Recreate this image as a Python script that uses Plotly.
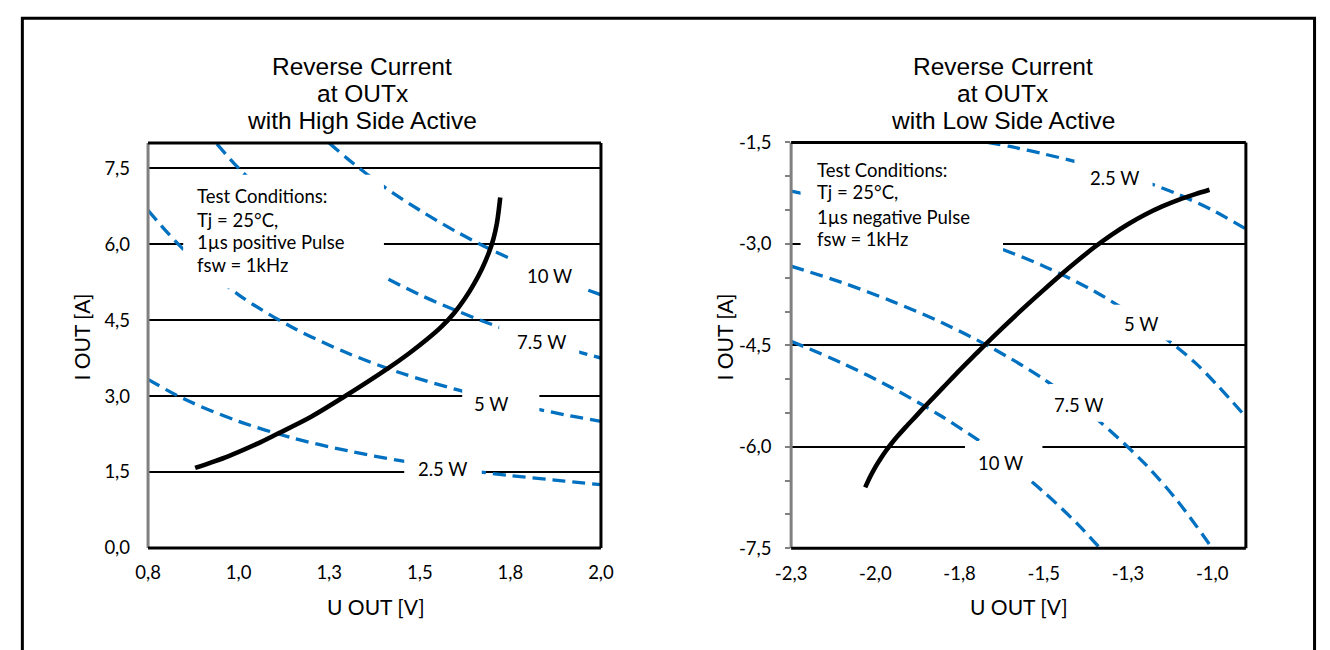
import plotly.graph_objects as go

# ------------------------- data -------------------------
# Left chart (High Side Active): measured reverse current curve
hs_u = [0.880, 0.971, 1.052, 1.106, 1.195, 1.290, 1.411, 1.470, 1.520, 1.560, 1.595, 1.625, 1.650, 1.672, 1.690, 1.703, 1.713, 1.722]
hs_i = [1.58, 1.81, 2.06, 2.25, 2.57, 2.98, 3.54, 3.84, 4.12, 4.37, 4.64, 4.93, 5.22, 5.52, 5.82, 6.10, 6.42, 6.92]

# Left chart: constant power lines
hs_p25_u = [0.75, 0.85, 1.0, 1.15, 1.3, 1.45, 1.6, 1.75, 1.9, 2.0]
hs_p25_i = [3.33, 2.94, 2.50, 2.17, 1.92, 1.72, 1.56, 1.43, 1.32, 1.25]
hs_p50_u = [0.75, 0.85, 1.0, 1.15, 1.3, 1.45, 1.6, 1.75, 1.9, 2.0]
hs_p50_i = [6.67, 5.88, 5.00, 4.35, 3.85, 3.45, 3.13, 2.86, 2.63, 2.50]
hs_p75_u = [0.94, 1.0, 1.1, 1.2, 1.3, 1.4, 1.5, 1.6, 1.7, 1.8, 1.9, 2.0]
hs_p75_i = [7.98, 7.50, 6.82, 6.25, 5.77, 5.36, 5.00, 4.69, 4.41, 4.17, 3.95, 3.75]
hs_p100_u = [1.25, 1.3, 1.4, 1.5, 1.6, 1.7, 1.8, 1.9, 2.0]
hs_p100_i = [8.00, 7.69, 7.14, 6.67, 6.25, 5.88, 5.56, 5.26, 5.00]

# Right chart (Low Side Active): measured reverse current curve
ls_u = [-2.030, -2.015, -2.000, -1.985, -1.970, -1.955, -1.935, -1.910, -1.880, -1.850, -1.800, -1.750, -1.700,
        -1.676, -1.620, -1.560, -1.500, -1.450, -1.400, -1.350, -1.300, -1.250, -1.200, -1.150, -1.100, -1.050, -1.008]
ls_i = [-6.60, -6.44, -6.30, -6.18, -6.07, -5.97, -5.85, -5.71, -5.55, -5.39, -5.13, -4.87, -4.62,
        -4.50, -4.23, -3.95, -3.68, -3.46, -3.25, -3.05, -2.87, -2.71, -2.57, -2.45, -2.35, -2.265, -2.20]

# Right chart: constant power lines
ls_p25_u = [-1.667, -1.6, -1.5, -1.4, -1.3, -1.2, -1.1, -1.0, -0.9]
ls_p25_i = [-1.50, -1.56, -1.67, -1.79, -1.92, -2.08, -2.27, -2.50, -2.78]
ls_p50_u = [-2.25, -2.1, -1.95, -1.8, -1.65, -1.5, -1.35, -1.2, -1.05, -0.9]
ls_p50_i = [-2.22, -2.38, -2.56, -2.78, -3.03, -3.33, -3.70, -4.17, -4.76, -5.56]
ls_p75_u = [-2.25, -2.1, -1.95, -1.8, -1.65, -1.5, -1.35, -1.2, -1.1, -1.0]
ls_p75_i = [-3.33, -3.57, -3.85, -4.17, -4.55, -5.00, -5.56, -6.25, -6.82, -7.50]
ls_p100_u = [-2.25, -2.1, -1.95, -1.8, -1.65, -1.5, -1.4, -1.333]
ls_p100_i = [-4.44, -4.76, -5.13, -5.56, -6.06, -6.67, -7.14, -7.50]

# Axis ticks
hs_xtickvals = [0.75, 1.0, 1.25, 1.5, 1.75, 2.0]
hs_xticktext = ["0,8", "1,0", "1,3", "1,5", "1,8", "2,0"]
hs_ytickvals = [0.0, 1.5, 3.0, 4.5, 6.0, 7.5]
hs_yticktext = ["0,0", "1,5", "3,0", "4,5", "6,0", "7,5"]
ls_xtickvals = [-2.25, -2.0, -1.75, -1.5, -1.25, -1.0]
ls_xticktext = ["-2,3", "-2,0", "-1,8", "-1,5", "-1,3", "-1,0"]
ls_ytickvals = [-7.5, -6.0, -4.5, -3.0, -1.5]
ls_yticktext = ["-7,5", "-6,0", "-4,5", "-3,0", "-1,5"]

# Power-line labels: (text, x, y, box x0, box x1, box y0, box y1)
hs_labels = [
    ("10 W", 1.859, 5.378, 1.757, 1.960, 5.028, 5.715),
    ("7.5 W", 1.835, 4.062, 1.719, 1.940, 3.713, 4.400),
    ("5 W", 1.697, 2.836, 1.617, 1.830, 2.493, 3.179),
    ("2.5 W", 1.562, 1.564, 1.457, 1.671, 1.215, 1.901),
]
ls_labels = [
    ("2.5 W", -1.290, -2.029, -1.409, -1.177, -2.286, -1.757),
    ("5 W", -1.212, -4.190, -1.328, -1.096, -4.429, -3.900),
    ("7.5 W", -1.397, -5.381, -1.485, -1.253, -5.629, -5.071),
    ("10 W", -1.628, -6.239, -1.734, -1.504, -6.500, -5.914),
]
hs_cond = ["Test Conditions:", "Tj = 25°C,", "1µs positive Pulse", "fsw = 1kHz"]
hs_cond_y = [6.955, 6.479, 6.034, 5.588]
hs_cond_box = (0.847, 1.401, 5.124, 7.373)
ls_cond = ["Test Conditions:", "Tj = 25°C,", "1µs negative Pulse", "fsw = 1kHz"]
ls_cond_y = [-1.904, -2.239, -2.596, -2.929]
ls_cond_box = (-2.222, -1.621, -3.114, -1.643)

# ------------------------- style -------------------------
W, H = 1330, 650
BLUE = "#0070C0"
CAL = "Lato, Carlito, Calibri, sans-serif"
ARI = "Liberation Sans, Arial, sans-serif"
DASH = "13px,7px"

fig = go.Figure()

def add_curve(x, y, xa, ya, dashed):
    fig.add_trace(go.Scatter(
        x=x, y=y, xaxis=xa, yaxis=ya, mode="lines",
        line=dict(color=BLUE if dashed else "black", width=3.3 if dashed else 4.6,
                  dash=DASH if dashed else "solid", shape="spline", smoothing=0.9),
        hoverinfo="skip", showlegend=False))

for u, i in [(hs_p25_u, hs_p25_i), (hs_p50_u, hs_p50_i), (hs_p75_u, hs_p75_i), (hs_p100_u, hs_p100_i)]:
    add_curve(u, i, "x", "y", True)
add_curve(hs_u, hs_i, "x", "y", False)
for u, i in [(ls_p25_u, ls_p25_i), (ls_p50_u, ls_p50_i), (ls_p75_u, ls_p75_i), (ls_p100_u, ls_p100_i)]:
    add_curve(u, i, "x2", "y2", True)
add_curve(ls_u, ls_i, "x2", "y2", False)

tickfont = dict(family=CAL, size=18.5, color="black")

fig.update_layout(
    width=W, height=H, autosize=False,
    margin=dict(l=0, r=0, t=0, b=0),
    paper_bgcolor="white", plot_bgcolor="white",
    showlegend=False,
    xaxis=dict(domain=[135 / W, 598 / W], range=[0.75, 2.0], anchor="y",
               tickmode="array", tickvals=hs_xtickvals, ticktext=hs_xticktext,
               showgrid=False, zeroline=False, showline=False, ticks="",
               tickfont=tickfont, ticklabelstandoff=12, fixedrange=True),
    yaxis=dict(domain=[(H - 554.7) / H, (H - 135.5) / H], range=[0, 8.0], anchor="x",
               tickmode="array", tickvals=hs_ytickvals, ticktext=hs_yticktext,
               showgrid=True, gridcolor="black", gridwidth=2, zeroline=False,
               showline=False, ticks="", tickfont=tickfont, ticklabelstandoff=17,
               fixedrange=True),
    xaxis2=dict(domain=[792.4 / W, 1257.3 / W], range=[-2.25, -0.9], anchor="y2",
                tickmode="array", tickvals=ls_xtickvals, ticktext=ls_xticktext,
                showgrid=False, zeroline=False, showline=False, ticks="",
                tickfont=tickfont, ticklabelstandoff=12, fixedrange=True),
    yaxis2=dict(domain=[(H - 555) / H, (H - 135) / H], range=[-7.5, -1.5], anchor="x2",
                tickmode="array", tickvals=ls_ytickvals, ticktext=ls_yticktext,
                showgrid=True, gridcolor="black", gridwidth=2, zeroline=False,
                showline=False, ticks="outside", ticklen=5, tickwidth=2, tickcolor="#808080",
                minor=dict(tick0=-7.5, dtick=0.5, ticks="outside", ticklen=5, tickwidth=2,
                           tickcolor="#808080", showgrid=False),
                tickfont=tickfont, ticklabelstandoff=10, fixedrange=True),
)

shapes = []
# white label boxes (mask grid and dashed lines)
for (_, _, _, bx0, bx1, by0, by1) in hs_labels:
    shapes.append(dict(type="rect", xref="x", yref="y", x0=bx0, x1=bx1, y0=by0, y1=by1,
                       fillcolor="white", line=dict(width=0), layer="above"))
for (_, _, _, bx0, bx1, by0, by1) in ls_labels:
    shapes.append(dict(type="rect", xref="x2", yref="y2", x0=bx0, x1=bx1, y0=by0, y1=by1,
                       fillcolor="white", line=dict(width=0), layer="above"))
shapes.append(dict(type="rect", xref="x", yref="y", x0=hs_cond_box[0], x1=hs_cond_box[1],
                   y0=hs_cond_box[2], y1=hs_cond_box[3], fillcolor="white",
                   line=dict(width=0), layer="above"))
shapes.append(dict(type="rect", xref="x2", yref="y2", x0=ls_cond_box[0], x1=ls_cond_box[1],
                   y0=ls_cond_box[2], y1=ls_cond_box[3], fillcolor="white",
                   line=dict(width=0), layer="above"))

# plot-area borders: left grey, others black
for xa, ya in [("x", "y"), ("x2", "y2")]:
    xd, yd = xa + " domain", ya + " domain"
    shapes.append(dict(type="line", xref=xd, yref=yd, x0=0, x1=0, y0=0, y1=1,
                       line=dict(color="#808080", width=3), layer="above"))
    shapes.append(dict(type="line", xref=xd, yref=yd, x0=0, x1=1, y0=1, y1=1,
                       line=dict(color="black", width=3), layer="above"))
    shapes.append(dict(type="line", xref=xd, yref=yd, x0=1, x1=1, y0=0, y1=1,
                       line=dict(color="black", width=3), layer="above"))
    shapes.append(dict(type="line", xref=xd, yref=yd, x0=0, x1=1, y0=0, y1=0,
                       line=dict(color="black", width=3), layer="above"))

# outer frame
shapes.append(dict(type="rect", xref="paper", yref="paper", x0=6.5 / W, x1=1327.5 / W,
                   y0=-0.05, y1=1 - 6.5 / H, line=dict(color="black", width=3),
                   fillcolor="rgba(0,0,0,0)", layer="above"))
fig.update_layout(shapes=shapes)

ann = []
labfont = dict(family=CAL, size=18.5, color="black")
for (t, x, y, *_r) in hs_labels:
    ann.append(dict(text=t, x=x, y=y, xref="x", yref="y", showarrow=False,
                    xanchor="center", yanchor="middle", font=labfont))
for (t, x, y, *_r) in ls_labels:
    ann.append(dict(text=t, x=x, y=y, xref="x2", yref="y2", showarrow=False,
                    xanchor="center", yanchor="middle", font=labfont))
for t, y in zip(hs_cond, hs_cond_y):
    ann.append(dict(text=t, x=0.880, y=y, xref="x", yref="y", showarrow=False,
                    xanchor="left", yanchor="middle", font=labfont))
for t, y in zip(ls_cond, ls_cond_y):
    ann.append(dict(text=t, x=-2.180, y=y, xref="x2", yref="y2", showarrow=False,
                    xanchor="left", yanchor="middle", font=labfont))

# chart titles
titlefont = dict(family=ARI, size=24.5, color="black")
title_left = ["Reverse Current", "at OUTx", "with High Side Active"]
title_right = ["Reverse Current", "at OUTx", "with Low Side Active"]
title_py = [56, 84, 112.5]
for lines, cx in [(title_left, 354), (title_right, 1008.5)]:
    for t, py in zip(lines, title_py):
        ann.append(dict(text=t, x=cx / W, y=1 - py / H, xref="paper", yref="paper",
                        showarrow=False, xanchor="center", yanchor="middle", font=titlefont))

# axis titles
axfont = dict(family=CAL, size=21, color="black")
for cx in [368, 1025]:
    ann.append(dict(text="U OUT [V]", x=cx / W, y=1 - 615 / H, xref="paper", yref="paper",
                    showarrow=False, xanchor="center", yanchor="middle", font=axfont))
for cx in [66.7, 724]:
    ann.append(dict(text="I OUT [A]", x=cx / W, y=1 - 336.7 / H, xref="paper", yref="paper",
                    showarrow=False, xanchor="center", yanchor="middle", textangle=-90,
                    font=axfont))
fig.update_layout(annotations=ann)

fig.write_html("out.html", config={"displayModeBar": False},
               post_script="document.body.style.margin='0';document.body.style.overflow='hidden';")
